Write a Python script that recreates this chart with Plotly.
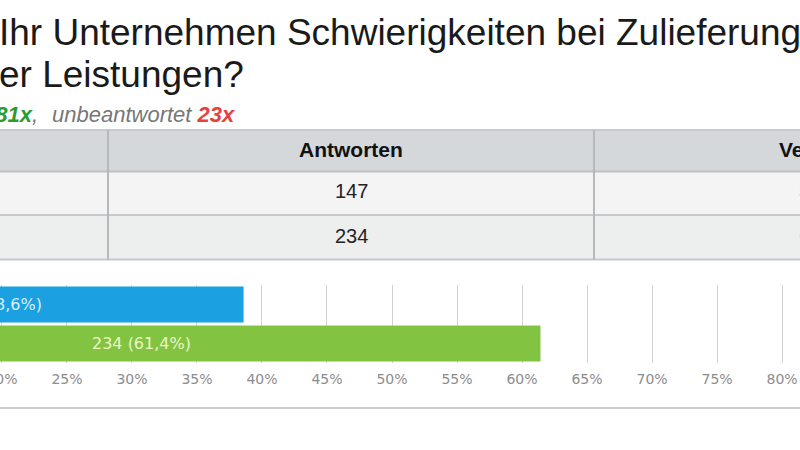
import plotly.graph_objects as go

# ---------------- data ----------------
categories = ["Ja", "Nein"]
answers = [147, 234]
unanswered = 23
bar_colors = ["#1ba1e2", "#82c341"]
label_colors = ["#d9effc", "#eaf7c4"]
tick_values = list(range(0, 105, 5))
tick_labels = [f"{v}%" for v in tick_values]
title_line1 = "Ihr Unternehmen Schwierigkeiten bei Zulieferungen von"
title_line2 = "er Leistungen?"
col_headers = ["Antworten", "Verhältnis"]

total = sum(answers)
pct = [a / total * 100 for a in answers]
pct_txt = [f"{p:.1f}".replace(".", ",") + "%" for p in pct]
bar_labels = [f"{a} ({t})" for a, t in zip(answers, pct_txt)]

W, H = 800, 450
def X(px):
    return px / W
def Y(py):
    return 1 - py / H

X_RANGE = [19.85, 81.38]
Y_DOMAIN = [Y(363), Y(285)]

fig = go.Figure()
fig.add_trace(go.Bar(
    x=pct, y=categories, orientation="h",
    marker=dict(color=bar_colors, line=dict(width=0)),
    hoverinfo="skip", showlegend=False,
))

shapes = []
shapes.append(dict(type="rect", xref="paper", yref="paper", x0=X(0), x1=X(800), y0=Y(171), y1=Y(130),
                   fillcolor="#d4d8db", line=dict(width=0), layer="below"))
shapes.append(dict(type="rect", xref="paper", yref="paper", x0=X(0), x1=X(800), y0=Y(215), y1=Y(171),
                   fillcolor="#f4f4f4", line=dict(width=0), layer="below"))
shapes.append(dict(type="rect", xref="paper", yref="paper", x0=X(0), x1=X(800), y0=Y(259), y1=Y(215),
                   fillcolor="#edefef", line=dict(width=0), layer="below"))
for py, col, w in [(130, "#c6cacd", 2), (171.5, "#bcc0c3", 2), (215, "#c6cacd", 2), (259.5, "#c6cacd", 2)]:
    shapes.append(dict(type="line", xref="paper", yref="paper", x0=X(0), x1=X(800), y0=Y(py), y1=Y(py),
                       line=dict(color=col, width=w)))
for px in [108, 594]:
    shapes.append(dict(type="line", xref="paper", yref="paper", x0=X(px), x1=X(px), y0=Y(260), y1=Y(130),
                       line=dict(color="#b5b9bc", width=2)))
shapes.append(dict(type="line", xref="paper", yref="paper", x0=X(0), x1=X(800), y0=Y(408), y1=Y(408),
                   line=dict(color="#c8cccc", width=2)))

ann = []
ann.append(dict(text=title_line1, xref="paper", yref="paper", x=X(-3), y=Y(32), xanchor="left", yanchor="middle",
                showarrow=False, font=dict(family="Liberation Sans", size=37, color="#1a1a1a")))
ann.append(dict(text=title_line2, xref="paper", yref="paper", x=X(-3), y=Y(75), xanchor="left", yanchor="middle",
                showarrow=False, font=dict(family="Liberation Sans", size=37, color="#1a1a1a")))
ann.append(dict(text=f"<i>beantwortet </i><b><i><span style='color:#2e9b2e'>{total}x</span></i></b><i>,</i>",
                xref="paper", yref="paper", x=X(40), y=Y(115), xanchor="right", yanchor="middle",
                showarrow=False, font=dict(family="Liberation Sans", size=22, color="#777777")))
ann.append(dict(text=f"<i>unbeantwortet </i><b><i><span style='color:#e8403a'>{unanswered}x</span></i></b>",
                xref="paper", yref="paper", x=X(50), y=Y(115), xanchor="left", yanchor="middle",
                showarrow=False, font=dict(family="Liberation Sans", size=22, color="#777777")))
ann.append(dict(text=f"<b>{col_headers[0]}</b>", xref="paper", yref="paper", x=X(351), y=Y(150),
                xanchor="center", yanchor="middle", showarrow=False,
                font=dict(family="Liberation Sans", size=21, color="#111111")))
ann.append(dict(text=f"<b>{col_headers[1]}</b>", xref="paper", yref="paper", x=X(777), y=Y(150),
                xanchor="left", yanchor="middle", showarrow=False,
                font=dict(family="Liberation Sans", size=21, color="#111111")))
row_y = [191, 236]
for a, t, ry in zip(answers, pct_txt, row_y):
    ann.append(dict(text=str(a), xref="paper", yref="paper", x=X(351), y=Y(ry),
                    xanchor="center", yanchor="middle", showarrow=False,
                    font=dict(family="Liberation Sans", size=20, color="#222222")))
    ann.append(dict(text=t, xref="paper", yref="paper", x=X(797), y=Y(ry),
                    xanchor="left", yanchor="middle", showarrow=False,
                    font=dict(family="Liberation Sans", size=20, color="#888888")))

n = len(categories)
for i, (p, lab, c) in enumerate(zip(pct, bar_labels, label_colors)):
    xp = (p / 2 - X_RANGE[0]) / (X_RANGE[1] - X_RANGE[0])
    yp = Y_DOMAIN[1] - (i + 0.5) / n * (Y_DOMAIN[1] - Y_DOMAIN[0])
    ann.append(dict(text=lab, xref="paper", yref="paper", x=xp, y=yp,
                    xanchor="center", yanchor="middle", showarrow=False,
                    font=dict(family="DejaVu Sans", size=16, color=c)))

fig.update_layout(
    width=W, height=H,
    margin=dict(l=0, r=0, t=0, b=0, pad=0, autoexpand=False),
    paper_bgcolor="white", plot_bgcolor="white",
    bargap=0.08,
    shapes=shapes, annotations=ann,
    xaxis=dict(domain=[0, 1], range=X_RANGE, tickvals=tick_values, ticktext=tick_labels,
               automargin=False,
               showgrid=True, gridcolor="#d0d0d0", gridwidth=1, zeroline=False, showline=False,
               ticks="outside", ticklen=3, tickcolor="rgba(0,0,0,0)",
               ticklabeloverflow="allow",
               tickfont=dict(family="DejaVu Sans", size=14, color="#8c8c8c")),
    yaxis=dict(domain=Y_DOMAIN, autorange="reversed", showticklabels=False, automargin=False,
               showgrid=False, zeroline=False, showline=False, ticks=""),
)

fig.write_html("out.html")
